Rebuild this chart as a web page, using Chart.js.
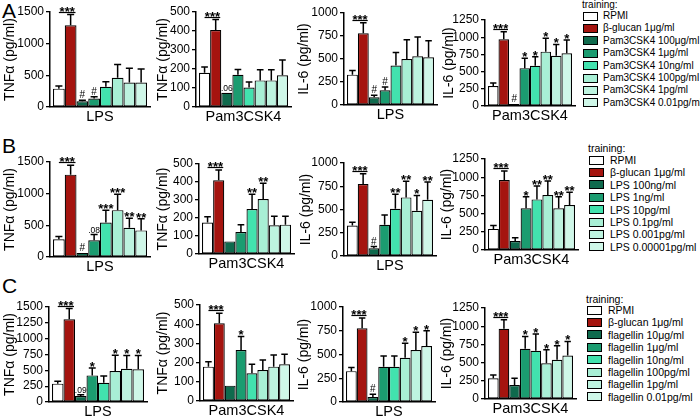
<!DOCTYPE html>
<html><head><meta charset="utf-8">
<script src="https://cdn.jsdelivr.net/npm/chart.js@4.4.1/dist/chart.umd.min.js"></script>
<style>
html,body{margin:0;padding:0;background:#fff;}
body{width:700px;height:416px;position:relative;overflow:hidden;font-family:'Liberation Sans',Arial,Helvetica,sans-serif;color:#000;}
canvas{position:absolute;}
.letter{position:absolute;left:2px;font-size:21px;line-height:21px;}
.lt{position:absolute;line-height:12px;white-space:nowrap;}
.lb{position:absolute;width:15px;height:9px;border:1.5px solid #000;box-sizing:border-box;}
</style></head><body>
<div class="letter" style="top:0px">A</div>
<div class="letter" style="top:135px">B</div>
<div class="letter" style="top:275px">C</div>
<script>
// ---------- data ----------
const STIM = ['LPS', 'Pam3CSK4'];
const YTITLE = ['TNFα (pg/ml)', 'IL-6 (pg/ml)'];

const LEGEND_A = ['RPMI', 'β-glucan 1μg/ml', 'Pam3CSK4 100μg/ml', 'Pam3CSK4 1μg/ml', 'Pam3CSK4 10ng/ml', 'Pam3CSK4 100pg/ml', 'Pam3CSK4 1pg/ml', 'Pam3CSK4 0.01pg/ml'];
const LEGEND_B = ['RPMI', 'β-glucan 1μg/ml', 'LPS 100ng/ml', 'LPS 1ng/ml', 'LPS 10pg/ml', 'LPS 0.1pg/ml', 'LPS 0.001pg/ml', 'LPS 0.00001pg/ml'];
const LEGEND_C = ['RPMI', 'β-glucan 1μg/ml', 'flagellin 10μg/ml', 'flagellin 1μg/ml', 'flagellin 10ng/ml', 'flagellin 100pg/ml', 'flagellin 1pg/ml', 'flagellin 0.01pg/ml'];

// Row A (Pam3CSK4 training)
const A_TNF_LPS = [290, 1290, 90, 135, 320, 460, 385, 385];
const A_TNF_LPS_ERR = [40, 170, 15, 25, 80, 210, 225, 215];
const A_TNF_LPS_SIG = ['', '***', '#', '#', '', '', '', ''];
const A_TNF_PAM = [180, 405, 75, 170, 102, 140, 140, 167];
const A_TNF_PAM_ERR = [30, 55, 0, 28, 30, 56, 56, 80];
const A_TNF_PAM_SIG = ['', '***', '.06', '', '', '', '', ''];
const A_IL6_LPS = [330, 780, 85, 160, 430, 500, 530, 518];
const A_IL6_LPS_ERR = [45, 115, 20, 35, 140, 210, 210, 180];
const A_IL6_LPS_SIG = ['', '***', '#', '#', '', '', '', ''];
const A_IL6_PAM = [290, 970, 30, 550, 585, 790, 730, 765];
const A_IL6_PAM_ERR = [45, 110, 0, 145, 130, 195, 165, 195];
const A_IL6_PAM_SIG = ['', '***', '#', '*', '*', '*', '*', '*'];

// Row B (LPS training)
const B_TNF_LPS = [280, 1300, 65, 265, 545, 740, 460, 420];
const B_TNF_LPS_ERR = [45, 150, 0, 90, 195, 250, 150, 185];
const B_TNF_LPS_SIG = ['', '***', '#', '.08', '***', '***', '**', '**'];
const B_TNF_PAM = [175, 410, 70, 122, 250, 305, 160, 163];
const B_TNF_PAM_ERR = [32, 56, 0, 40, 82, 88, 50, 47];
const B_TNF_PAM_SIG = ['', '***', '', '', '**', '**', '', ''];
const B_IL6_LPS = [327, 775, 83, 335, 507, 630, 486, 605];
const B_IL6_LPS_ERR = [36, 110, 18, 107, 158, 173, 165, 190];
const B_IL6_LPS_SIG = ['', '***', '#', '', '**', '**', '*', '**'];
const B_IL6_PAM = [290, 960, 124, 572, 695, 755, 572, 618];
const B_IL6_PAM_ERR = [45, 125, 45, 160, 183, 193, 160, 175];
const B_IL6_PAM_SIG = ['', '***', '', '*', '**', '**', '**', '**'];

// Row C (flagellin training)
const C_TNF_LPS = [290, 1305, 95, 420, 305, 490, 526, 516];
const C_TNF_LPS_ERR = [37, 170, 20, 115, 105, 248, 210, 220];
const C_TNF_LPS_SIG = ['', '***', '.09', '*', '', '*', '*', '*'];
const C_TNF_PAM = [179, 405, 80, 266, 144, 161, 179, 191];
const C_TNF_PAM_ERR = [26, 52, 0, 70, 47, 52, 60, 52];
const C_TNF_PAM_SIG = ['', '***', '', '*', '', '', '', ''];
const C_IL6_LPS = [325, 777, 53, 371, 371, 466, 548, 590];
const C_IL6_LPS_ERR = [39, 106, 28, 113, 113, 152, 187, 159];
const C_IL6_LPS_SIG = ['', '***', '#', '', '', '*', '*', '*'];
const C_IL6_PAM = [285, 965, 193, 690, 662, 492, 538, 597];
const C_IL6_PAM_ERR = [46, 124, 92, 170, 230, 184, 193, 193];
const C_IL6_PAM_SIG = ['', '***', '', '*', '*', '*', '*', '*'];

// axis ranges: [max, step]
const AX_TNF_LPS = [1500, 500];
const AX_TNF_LPS_C = [1500, 250];
const AX_TNF_PAM = [500, 100];
const AX_IL6_LPS = [1000, 250];
const AX_IL6_PAM = [1250, 250];

// ---------- styles / layout ----------
const FONT = "'Liberation Sans', Arial, Helvetica, sans-serif";
const COLORS = ['#ffffff', '#a5140f', '#0f6a4d', '#1b9c70', '#42e2ae', '#a8efd5', '#bdf3df', '#cff7e8'];
// titleX, axisX, barsRight, topPixel, zeroPixel
const BOX = [
  [10, 50, 147, 12, 107], [163, 196, 288, 12, 107], [304, 344, 434, 13, 105], [449, 485, 572, 20, 106],
  [10, 50, 147, 162, 257], [163, 199, 291, 164, 254], [306, 344, 433, 163, 256], [447, 485, 575, 159, 250],
  [10, 49, 144, 307, 402], [163, 200, 290, 305, 401], [304, 343, 432, 307, 402], [447, 485, 573, 308, 399]
];
// legend: boxX, textX, titleCenterY, firstRowCenterY, fontSize
const LEG_POS = [[583, 603, 5, 16, 10], [589, 610, 148, 160, 10.5], [587, 608, 299, 310, 10.5]];
const LEG_STEP = 12.4;

const PANELS = [
  [A_TNF_LPS, A_TNF_LPS_ERR, A_TNF_LPS_SIG, 0, 0, AX_TNF_LPS, LEGEND_A],
  [A_TNF_PAM, A_TNF_PAM_ERR, A_TNF_PAM_SIG, 1, 0, AX_TNF_PAM, LEGEND_A],
  [A_IL6_LPS, A_IL6_LPS_ERR, A_IL6_LPS_SIG, 0, 1, AX_IL6_LPS, LEGEND_A],
  [A_IL6_PAM, A_IL6_PAM_ERR, A_IL6_PAM_SIG, 1, 1, AX_IL6_PAM, LEGEND_A],
  [B_TNF_LPS, B_TNF_LPS_ERR, B_TNF_LPS_SIG, 0, 0, AX_TNF_LPS, LEGEND_B],
  [B_TNF_PAM, B_TNF_PAM_ERR, B_TNF_PAM_SIG, 1, 0, AX_TNF_PAM, LEGEND_B],
  [B_IL6_LPS, B_IL6_LPS_ERR, B_IL6_LPS_SIG, 0, 1, AX_IL6_LPS, LEGEND_B],
  [B_IL6_PAM, B_IL6_PAM_ERR, B_IL6_PAM_SIG, 1, 1, AX_IL6_PAM, LEGEND_B],
  [C_TNF_LPS, C_TNF_LPS_ERR, C_TNF_LPS_SIG, 0, 0, AX_TNF_LPS_C, LEGEND_C],
  [C_TNF_PAM, C_TNF_PAM_ERR, C_TNF_PAM_SIG, 1, 0, AX_TNF_PAM, LEGEND_C],
  [C_IL6_LPS, C_IL6_LPS_ERR, C_IL6_LPS_SIG, 0, 1, AX_IL6_LPS, LEGEND_C],
  [C_IL6_PAM, C_IL6_PAM_ERR, C_IL6_PAM_SIG, 1, 1, AX_IL6_PAM, LEGEND_C]
];

function errPlugin(errs, sig) {
  return {
    id: 'errbars',
    afterDatasetsDraw(chart) {
      const ctx = chart.ctx, ys = chart.scales.y;
      ctx.save();
      ctx.strokeStyle = '#000'; ctx.fillStyle = '#000'; ctx.lineWidth = 1.5;
      ctx.textAlign = 'center'; ctx.textBaseline = 'alphabetic';
      const bars = chart.data.datasets.map((ds, i) => chart.getDatasetMeta(i).data[0]);
      chart.data.datasets.forEach((ds, i) => {
        const bar = bars[i];
        const v = ds.data[0], e = errs[i];
        const x = bar.x, w = bar.width;
        const yTop = ys.getPixelForValue(v + e);
        if (e > 0) {
          ctx.lineWidth = 1.5;
          ctx.beginPath();
          ctx.moveTo(x, bar.y); ctx.lineTo(x, yTop);
          ctx.moveTo(x - w * 0.3, yTop); ctx.lineTo(x + w * 0.3, yTop);
          ctx.stroke();
        }
        const s = sig[i];
        if (!s) return;
        if (s[0] === '*') {
          ctx.font = 'bold 13px ' + FONT;
          if (i === 1) {
            const ly = Math.round(yTop - 3) + 0.5;
            const x0 = bars[0].x, x1 = bar.x + w / 2 - 1;
            ctx.lineWidth = 1.2;
            ctx.beginPath(); ctx.moveTo(x0, ly); ctx.lineTo(x1, ly); ctx.stroke();
            ctx.fillText(s, (x0 + x1) / 2, ly + 3);
          } else {
            ctx.fillText(s, x, yTop + 3);
          }
        } else if (s === '#') {
          ctx.font = '10px ' + FONT;
          ctx.fillText(s, x, yTop - 2);
        } else {
          ctx.font = '8.5px ' + FONT;
          ctx.fillText(s, x, yTop - 1.5);
        }
      });
      ctx.restore();
    }
  };
}

function panel(p, b) {
  const [vals, errs, sig, si, ti, ax, legend] = p;
  const [titleX, axisX, barsR, top, bottom] = b;
  const PT = 14, XH = 22, PR = 2, GAP = 3;
  const left = Math.round(titleX - 8.4);
  const YW = axisX - left;
  const plotR = barsR + GAP;
  const cTop = top - PT;
  const W = plotR - left + PR;
  const H = bottom - cTop + XH;
  const cv = document.createElement('canvas');
  cv.width = W; cv.height = H;
  cv.style.left = left + 'px'; cv.style.top = cTop + 'px';
  cv.style.width = W + 'px'; cv.style.height = H + 'px';
  document.body.appendChild(cv);
  const catPct = (barsR - axisX - GAP) / (plotR - axisX);
  new Chart(cv, {
    type: 'bar',
    data: {
      labels: [STIM[si]],
      datasets: vals.map((v, i) => ({
        label: legend[i], data: [v], backgroundColor: COLORS[i], borderColor: '#000',
        borderWidth: 1.2, borderSkipped: false, barPercentage: 1, categoryPercentage: catPct
      }))
    },
    options: {
      responsive: false, animation: false, devicePixelRatio: 1,
      layout: { padding: { left: 0, right: PR, top: PT, bottom: 0 } },
      plugins: { legend: { display: false }, tooltip: { enabled: false } },
      scales: {
        x: {
          grid: { display: false, drawTicks: false },
          border: { display: true, color: '#000', width: 1.5 },
          ticks: { color: '#000', font: { family: FONT, size: 14.5 }, padding: 1, maxRotation: 0, autoSkip: false },
          afterFit(s) { s.height = XH; }
        },
        y: {
          min: 0, max: ax[0],
          grid: { display: true, drawOnChartArea: false, drawTicks: true, tickLength: 4, color: '#000', lineWidth: 1.3 },
          border: { display: true, color: '#000', width: 1.5 },
          ticks: { stepSize: ax[1], color: '#000', font: { family: FONT, size: 12 }, padding: 2, autoSkip: false,
                   callback: (v) => String(v) },
          title: { display: true, text: YTITLE[ti], color: '#000', font: { family: FONT, size: 14 }, padding: 0 },
          afterFit(s) { s.width = YW; }
        }
      }
    },
    plugins: [errPlugin(errs, sig)]
  });
}

PANELS.forEach((p, k) => panel(p, BOX[k]));

function legendBlock(labels, pos) {
  const [bx, tx, ty, y0, fs] = pos;
  const t = document.createElement('div');
  t.className = 'lt'; t.textContent = 'training:'; t.style.fontSize = fs + 'px';
  t.style.left = (bx - 1) + 'px'; t.style.top = (ty - 6) + 'px';
  document.body.appendChild(t);
  labels.forEach((lab, i) => {
    const cy = y0 + i * LEG_STEP;
    const bxd = document.createElement('div');
    bxd.className = 'lb'; bxd.style.left = bx + 'px'; bxd.style.top = (cy - 4.5) + 'px';
    bxd.style.background = COLORS[i];
    document.body.appendChild(bxd);
    const td = document.createElement('div');
    td.className = 'lt'; td.textContent = lab; td.style.fontSize = fs + 'px';
    td.style.left = tx + 'px'; td.style.top = (cy - 6) + 'px';
    document.body.appendChild(td);
  });
}
legendBlock(LEGEND_A, LEG_POS[0]);
legendBlock(LEGEND_B, LEG_POS[1]);
legendBlock(LEGEND_C, LEG_POS[2]);
</script>
</body></html>
